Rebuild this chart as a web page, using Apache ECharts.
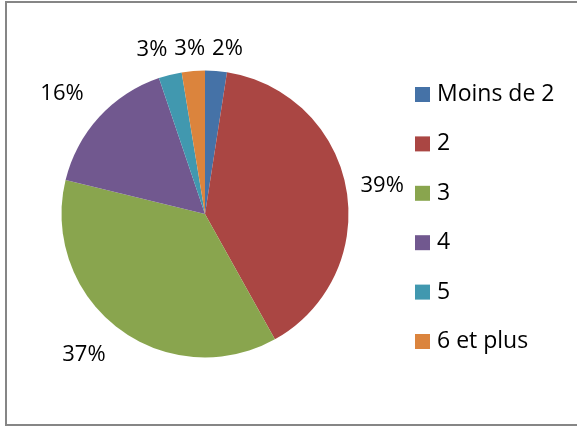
<!DOCTYPE html>
<html>
<head>
<meta charset="utf-8">
<script src="https://cdn.jsdelivr.net/npm/echarts@6/dist/echarts.min.js"></script>
<style>
  html, body { margin: 0; padding: 0; background: #fff; }
  #main { width: 577px; height: 427px; }
</style>
</head>
<body>
<div id="main"></div>
<script>
// données (en %)
var categories = ["Moins de 2", "2", "3", "4", "5", "6 et plus"];
var values = [2.45, 39.45, 36.9, 16.0, 2.6, 2.6];
var colors = ["#4572A7", "#AA4643", "#89A54E", "#71588F", "#4198AF", "#DB843D"];

var cx = 205, cy = 214, radius = 143.5;
var fontFamily = '"Open Sans", sans-serif';
var labelSize = 22;

function labelText(v) {
  return Math.round(v) + "%";
}

function clamp(v) {
  return Math.max(-1, Math.min(1, v));
}

// position des étiquettes : à l'extérieur de l'angle médian,
// le coin le plus proche de l'étiquette posé sur un cercle un peu plus grand
function computeLabels() {
  var ctx = document.createElement("canvas").getContext("2d");
  ctx.font = labelSize + "px " + fontFamily;
  var total = 0;
  for (var i = 0; i < values.length; i++) total += values[i];
  var acc = 0, h = 20, list = [];
  for (var i = 0; i < values.length; i++) {
    var mid = (acc + values[i] / 2) / total * 2 * Math.PI;
    acc += values[i];
    var dx = Math.sin(mid), dy = -Math.cos(mid);
    var w = ctx.measureText(labelText(values[i])).width;
    var R = radius + 11 + 10 * Math.abs(Math.sin(2 * mid));
    list.push({
      x: cx + dx * R + clamp(1.7 * dx) * w / 2,
      y: cy + dy * R + clamp(2 * dy * Math.abs(dy)) * h / 2,
      w: w,
      h: h
    });
  }
  // écarter horizontalement les étiquettes qui se chevauchent
  for (var it = 0; it < 30; it++) {
    for (var a = 0; a < list.length; a++) {
      for (var b = a + 1; b < list.length; b++) {
        var p = list[a], q = list[b];
        if (Math.abs(p.y - q.y) > (p.h + q.h) / 2) continue;
        var need = (p.w + q.w) / 2 + 7;
        var dist = Math.abs(p.x - q.x);
        if (dist < need) {
          var push = (need - dist) / 2;
          if (p.x < q.x) { p.x -= push; q.x += push; }
          else { p.x += push; q.x -= push; }
        }
      }
    }
  }
  return list;
}

var labelPos = computeLabels();

var myChart = echarts.init(document.getElementById("main"));

var option = {
  backgroundColor: "#fff",
  animation: false,
  color: colors,
  graphic: [
    {
      type: "rect",
      shape: { x: 6, y: 2, width: 590, height: 423 },
      style: { fill: "none", stroke: "#868686", lineWidth: 2 }
    }
  ],
  legend: {
    orient: "vertical",
    left: 415,
    top: 83,
    padding: 0,
    itemWidth: 15,
    itemHeight: 15,
    itemGap: 26.4,
    icon: "rect",
    data: categories,
    textStyle: {
      fontFamily: fontFamily,
      fontSize: 23,
      lineHeight: 22,
      color: "#000",
      padding: [0, 0, 0, 2]
    }
  },
  series: [
    {
      type: "pie",
      center: [cx, cy],
      radius: radius,
      startAngle: 90,
      clockwise: true,
      avoidLabelOverlap: false,
      data: categories.map(function (c, i) {
        return { name: c, value: values[i] };
      }),
      label: {
        show: true,
        position: "outside",
        color: "#000",
        fontFamily: fontFamily,
        fontSize: labelSize,
        formatter: function (p) {
          return labelText(p.value);
        }
      },
      labelLine: { show: false },
      labelLayout: function (params) {
        var p = labelPos[params.dataIndex];
        return { x: p.x, y: p.y, align: "center", verticalAlign: "middle" };
      },
      emphasis: { disabled: true }
    }
  ]
};

myChart.setOption(option);
</script>
</body>
</html>
